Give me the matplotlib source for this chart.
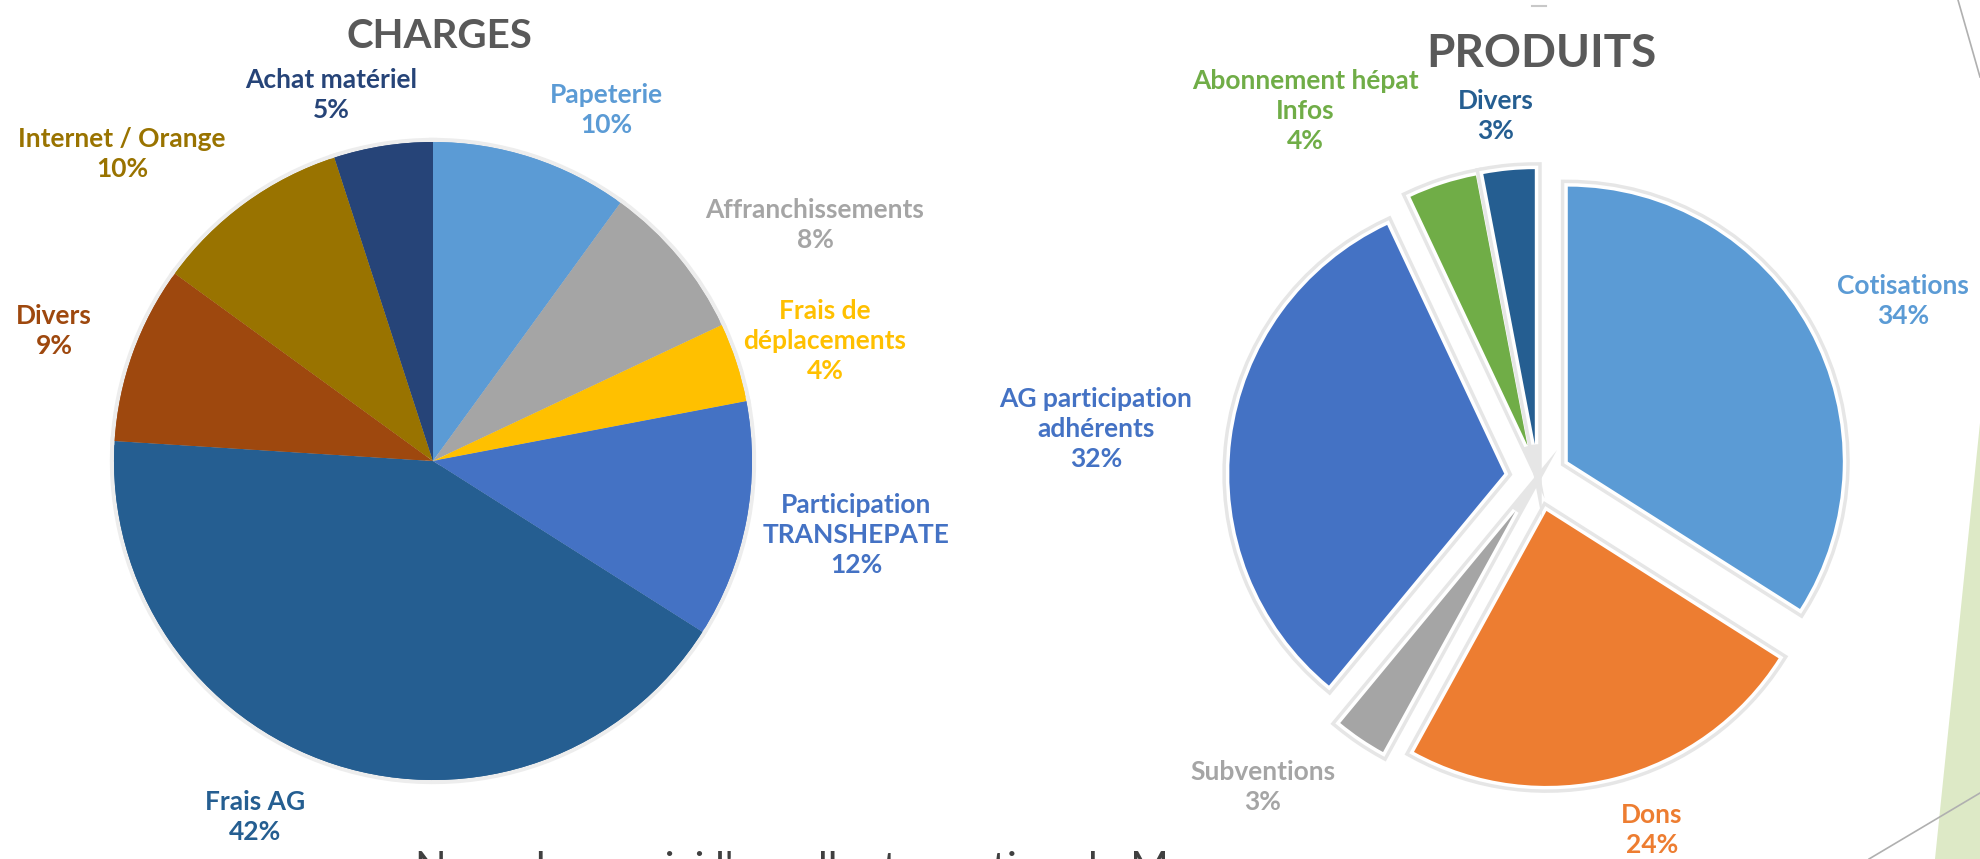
import matplotlib
matplotlib.use("Agg")
import matplotlib.pyplot as plt
import matplotlib.patheffects as pe
from matplotlib.patches import Polygon, Wedge

plt.rcParams['font.family'] = ['Lato', 'DejaVu Sans']

# CHARGES (clockwise from top)
charges_labels = ['Papeterie', 'Affranchissements', 'Frais de\ndéplacements',
                  'Participation\nTRANSHEPATE', 'Frais AG', 'Divers',
                  'Internet / Orange', 'Achat matériel']
charges_pct = [10, 8, 4, 12, 42, 9, 10, 5]
charges_colors = ['#5B9BD5', '#A5A5A5', '#FFC000', '#4472C4', '#255E91',
                  '#9E480E', '#997300', '#264478']

# PRODUITS (clockwise from top)
produits_labels = ['Cotisations', 'Dons', 'Subventions',
                   'AG participation\nadhérents', 'Abonnement hépat\nInfos', 'Divers']
produits_pct = [34, 24, 3, 32, 4, 3]
produits_colors = ['#5B9BD5', '#ED7D31', '#A5A5A5', '#4472C4', '#70AD47', '#255E91']

W, H = 1980, 859
fig = plt.figure(figsize=(19.8, 8.59), dpi=100)
ax = fig.add_axes([0, 0, 1, 1])


def Y(y):
    # picture rows (from top) -> data y
    return H - y


# left pie, soft shadow drawn under the wedges
w1, _ = ax.pie(charges_pct, colors=charges_colors, startangle=90, counterclock=False,
               center=(433, Y(461)), radius=319, frame=True,
               wedgeprops=dict(linewidth=0))
for w in w1:
    w.set_path_effects([pe.Stroke(linewidth=6, foreground='#ededed'), pe.Normal()])
    w.set_zorder(2)
    ax.add_patch(Wedge(w.center, w.r, w.theta1, w.theta2,
                       facecolor=w.get_facecolor(), linewidth=0, zorder=3))

# right pie, every slice pulled out (explode is in data units here)
glow = [pe.Stroke(linewidth=10, foreground='#e6e6e6'),
        pe.Stroke(linewidth=5, foreground='white'), pe.Normal()]
w_r, _ = ax.pie(produits_pct, colors=produits_colors, startangle=90, counterclock=False,
                center=(1538, Y(478)), radius=275, frame=True,
                explode=[34, 34, 40, 34, 34, 34], wedgeprops=dict(linewidth=0))
for w in w_r:
    w.set_path_effects(glow)

ax.set_xlim(0, W)
ax.set_ylim(0, H)
ax.set_aspect('equal')
ax.axis('off')

# labels
charges_pos = [(606, 110), (815, 225), (825, 341), (856, 535), (255, 817),
               (54, 331), (122, 154), (331, 95)]
for lab, p, c, (x, y) in zip(charges_labels, charges_pct, charges_colors, charges_pos):
    ax.text(x, Y(y), f'{lab}\n{p}%', color=c, fontsize=19, fontweight='bold',
            ha='center', va='center', linespacing=1.3, zorder=5)

produits_pos = [(1903, 301), (1652, 830), (1263, 787), (1096, 429), (1305, 111), (1496, 116)]
for lab, p, c, (x, y) in zip(produits_labels, produits_pct, produits_colors, produits_pos):
    ax.text(x, Y(y), f'{lab}\n{p}%', color=c, fontsize=19, fontweight='bold',
            ha='center', va='center', linespacing=1.3, zorder=5)

ax.text(439, Y(36), 'CHARGES', color='#595959', fontsize=29, fontweight='bold',
        ha='center', va='center')
ax.text(1541, Y(54), 'PRODUITS', color='#595959', fontsize=33, fontweight='bold',
        ha='center', va='center')

# slide decorations
ax.add_patch(Polygon([(1980, Y(423)), (1935, 0), (1980, 0)], closed=True,
                     facecolor='#DDE9C6', edgecolor='none', zorder=0))
ax.plot([1958, 1980], [Y(0), Y(77)], color='#b0b0b0', lw=1.2)
ax.plot([1869, 1980], [Y(859), Y(793)], color='#b0b0b0', lw=1.2)
ax.plot([1532, 1546], [Y(6), Y(6)], color='#c8c8c8', lw=1.5)

# sentence cut off by the bottom of the slide, only the tops of letters show
ax.text(415, Y(882), "Nous devons ici l'excellente gestion de M", color='#404040',
        fontsize=30, ha='left', va='baseline', clip_on=True)

fig.savefig('out.png', dpi=100)
